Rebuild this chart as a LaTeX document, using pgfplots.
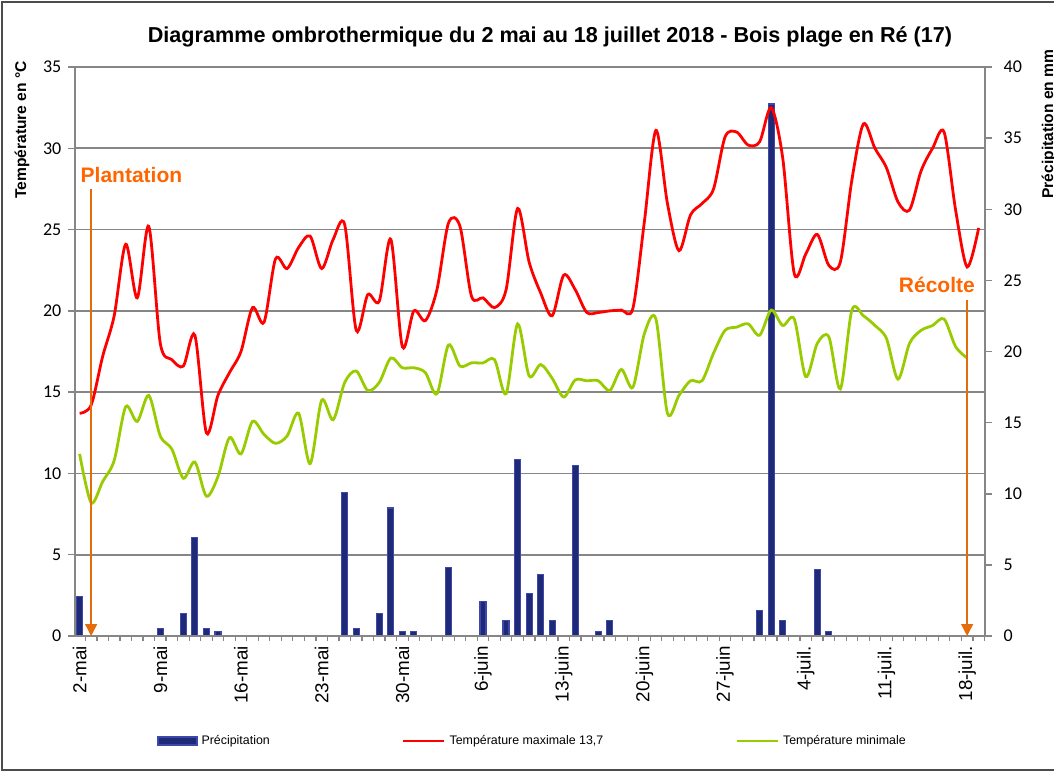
\documentclass[border=0pt]{standalone}
\usepackage{fontspec}
\setmainfont{Liberation Sans}
\newfontfamily\carlito{Carlito}
\usepackage{pgfplots}
\pgfplotsset{compat=1.18}
\usetikzlibrary{arrows.meta}
\definecolor{gridgray}{RGB}{134,134,134}
\definecolor{barfill}{RGB}{30,42,120}
\definecolor{baredge}{RGB}{62,72,168}
\definecolor{tmax}{RGB}{255,0,0}
\definecolor{tmin}{RGB}{153,204,0}
\definecolor{orangetxt}{RGB}{255,102,0}
\definecolor{orangeline}{RGB}{228,108,10}
\begin{document}
\begin{tikzpicture}
\useasboundingbox (0,0) rectangle (527pt,386.5pt);
\draw[black!70, line width=0.6pt] (600pt,385.5pt) -- (1pt,385.5pt) -- (1pt,1.5pt) -- (600pt,1.5pt);
% ---------- precipitation (right axis) ----------
\begin{axis}[
  at={(37.5pt,68.5pt)}, anchor=south west,
  width=455pt, height=284.5pt, scale only axis,
  xmin=-0.4, xmax=78.55, ymin=0, ymax=40,
  axis x line=none, axis y line*=right,
  y axis line style={draw=gridgray, line width=0.75pt, -},
  ytick={0,5,...,40},
  ytick style={draw=gridgray, line width=0.75pt},
  tick align=outside, major tick length=3.3pt,
  yticklabel style={font=\carlito\fontsize{9}{10}\selectfont, xshift=2.5pt},
  /pgf/number format/assume math mode=true,
  extra y ticks={5.7143,11.4286,17.1429,22.8571,28.5714,34.2857,40},
  extra y tick labels={},
  extra y tick style={grid=major, major tick length=0pt},
  major grid style={draw=gridgray, line width=0.8pt},
  clip=false,
]
\addplot[ybar, bar width=3pt, fill=barfill, draw=baredge, line width=0.6pt] table[x=d, y=p] {
d p
0 2.8
7 0.5
9 1.6
10 6.9
11 0.5
12 0.3
23 10.1
24 0.5
26 1.6
27 9.0
28 0.3
29 0.3
32 4.8
35 2.4
37 1.1
38 12.4
39 3.0
40 4.3
41 1.1
43 12.0
45 0.3
46 1.1
59 1.8
60 37.4
61 1.1
64 4.7
65 0.3
};
\end{axis}
% ---------- temperatures (left axis) ----------
\begin{axis}[
  at={(37.5pt,68.5pt)}, anchor=south west,
  width=455pt, height=284.5pt, scale only axis,
  xmin=-0.4, xmax=78.55, ymin=0, ymax=35,
  axis x line*=bottom, axis y line*=left,
  axis line style={draw=gridgray, line width=0.75pt, -},
  ytick={0,5,...,35},
  ytick style={draw=gridgray, line width=0.75pt},
  tick align=outside, major tick length=3.3pt,
  yticklabel style={font=\carlito\fontsize{9}{10}\selectfont},
  /pgf/number format/assume math mode=true,
  xtick={0,7,...,77},
  xticklabels={2-mai,9-mai,16-mai,23-mai,30-mai,6-juin,13-juin,20-juin,27-juin,4-juil.,11-juil.,18-juil.},
  xtick style={draw=none},
  xticklabel style={rotate=90, anchor=east, font=\fontsize{9.4}{10}\selectfont, inner sep=1.5pt},
  minor xtick={0.5,1.5,...,78.5},
  minor x tick style={draw=gridgray, line width=0.6pt},
  minor tick length=2.4pt,
  clip=false,
  legend columns=3,
  legend style={at={(0.0901,-0.1845)}, anchor=west, draw=none, fill=none, inner sep=0pt,
    font=\fontsize{6.2}{7}\selectfont,
    /tikz/every even column/.append style={column sep=64pt}},
  legend cell align=left,
]
\addlegendimage{legend image code/.code={\draw[fill=barfill, draw=baredge, line width=0.6pt] (0pt,-2pt) rectangle (19.5pt,2pt);}}
\addlegendentry{Précipitation}
\addplot[tmax, line width=1.4pt, smooth, legend image code/.code={\draw[tmax, line width=1.4pt] (0pt,0pt) -- (20.5pt,0pt);}] table[x=d, y=t] {
d t
0 13.7
1 14.2
2 17.2
3 19.7
4 24.1
5 20.8
6 25.2
7 18.0
8 17.0
9 16.6
10 18.5
11 12.5
12 14.8
13 16.2
14 17.5
15 20.2
16 19.3
17 23.2
18 22.6
19 23.9
20 24.6
21 22.6
22 24.4
23 25.3
24 18.8
25 21.0
26 20.6
27 24.4
28 17.8
29 20.0
30 19.4
31 21.3
32 25.4
33 25.2
34 20.9
35 20.8
36 20.2
37 21.3
38 26.3
39 23.0
40 21.1
41 19.7
42 22.2
43 21.3
44 19.9
45 19.9
46 20.0
47 20.05
48 20.15
49 25.5
50 31.1
51 26.6
52 23.7
53 25.9
54 26.6
55 27.5
56 30.7
57 31.0
58 30.2
59 30.4
60 32.5
61 29.4
62 22.3
63 23.5
64 24.7
65 22.8
66 23.0
67 28.05
68 31.5
69 30.0
70 28.8
71 26.7
72 26.2
73 28.6
74 30.0
75 31.0
76 26.2
77 22.7
78 25.1
};
\addlegendentry{Température maximale 13,7}
\addplot[tmin, line width=1.4pt, smooth, legend image code/.code={\draw[tmin, line width=1.4pt] (0pt,0pt) -- (20.5pt,0pt);}] table[x=d, y=t] {
d t
0 11.2
1 8.2
2 9.5
3 10.8
4 14.1
5 13.2
6 14.8
7 12.3
8 11.5
9 9.7
10 10.7
11 8.6
12 9.8
13 12.2
14 11.2
15 13.2
16 12.4
17 11.85
18 12.3
19 13.7
20 10.6
21 14.5
22 13.3
23 15.6
24 16.3
25 15.1
26 15.6
27 17.1
28 16.5
29 16.5
30 16.2
31 14.9
32 17.9
33 16.6
34 16.8
35 16.8
36 17.0
37 14.9
38 19.2
39 16.0
40 16.7
41 15.85
42 14.7
43 15.75
44 15.7
45 15.7
46 15.1
47 16.4
48 15.3
49 18.6
50 19.5
51 13.7
52 14.8
53 15.7
54 15.7
55 17.4
56 18.8
57 19.0
58 19.2
59 18.5
60 20.05
61 19.1
62 19.5
63 15.95
64 18.0
65 18.4
66 15.2
67 20.05
68 19.7
69 19.1
70 18.3
71 15.8
72 18.0
73 18.8
74 19.1
75 19.5
76 17.8
77 17.1
};
\addlegendentry{Température minimale}
% annotations
\draw[orangeline, line width=0.65pt, -{Triangle[width=6pt,length=6pt]}] (axis cs:1,27.5) -- (axis cs:1,0);
\draw[orangeline, line width=0.65pt, -{Triangle[width=6pt,length=6pt]}] (axis cs:77,20.67) -- (axis cs:77,0);
\node[anchor=west, inner sep=0pt, text=orangetxt, font=\bfseries\fontsize{10.5}{12}\selectfont] at (axis cs:0.06,28.36) {Plantation};
\node[anchor=east, inner sep=0pt, text=orangetxt, font=\bfseries\fontsize{10.5}{12}\selectfont] at (axis cs:77.7,21.6) {Récolte};
\end{axis}
% titles
\node[font=\bfseries\fontsize{10.8}{13}\selectfont] at (275pt,368pt) {Diagramme ombrothermique du 2 mai au 18 juillet 2018 - Bois plage en Ré (17)};
\node[rotate=90, font=\bfseries\fontsize{7.8}{9}\selectfont] at (11pt,321.5pt) {Température en °C};
\node[rotate=90, font=\bfseries\fontsize{7.8}{9}\selectfont] at (524.5pt,324.5pt) {Précipitation en mm};
\end{tikzpicture}
\end{document}
